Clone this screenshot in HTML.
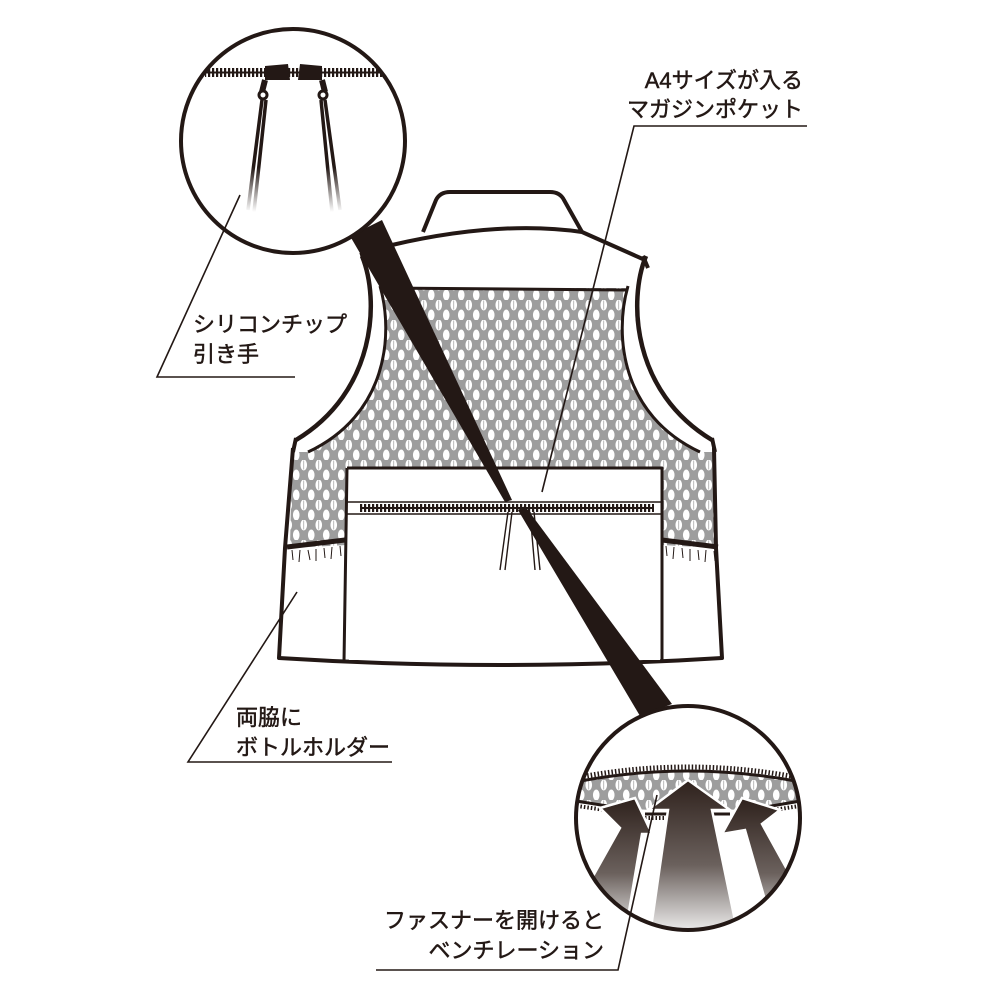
<!DOCTYPE html>
<html><head><meta charset="utf-8"><style>
html,body{margin:0;padding:0;background:#fff;}
svg{display:block;}
text{font-family:"Liberation Sans","Noto Sans CJK JP",sans-serif;font-size:22px;fill:#231815;stroke:#231815;stroke-width:0.5;}
</style></head><body>
<svg width="1000" height="1000" viewBox="0 0 1000 1000" xmlns="http://www.w3.org/2000/svg">
<defs>
<pattern id="mesh" width="15" height="20" patternUnits="userSpaceOnUse">
<rect width="15" height="20" fill="#9d9d9d"/>
<ellipse cx="3.75" cy="5" rx="3.3" ry="5.5" fill="#fff"/>
<ellipse cx="11.25" cy="15" rx="3.3" ry="5.5" fill="#fff"/>
<line x1="3.75" y1="0.5" x2="3.75" y2="9.5" stroke="#9d9d9d" stroke-width="0.7"/>
</pattern>
<pattern id="zip" width="4" height="10" patternUnits="userSpaceOnUse">
<rect x="0" y="0" width="2.2" height="10" fill="#231815"/>
</pattern>
<linearGradient id="ag" x1="0" y1="0" x2="0" y2="1">
<stop offset="0" stop-color="#2e211c"/><stop offset="0.55" stop-color="#6b615d"/><stop offset="1" stop-color="#f4f4f4"/>
</linearGradient>
<linearGradient id="cg" x1="0" y1="0" x2="0" y2="1">
<stop offset="0" stop-color="#231815"/><stop offset="0.6" stop-color="#231815"/><stop offset="1" stop-color="#fff"/>
</linearGradient>
<clipPath id="c2"><circle cx="688" cy="818" r="112"/></clipPath>
<clipPath id="c1"><circle cx="293" cy="141" r="112"/></clipPath>
</defs>

<g stroke="#231815" stroke-linejoin="round" fill="none">
<path d="M423,232 L436,200 Q440,192 450,192 L550,192 Q560,192 564,200 L582,232" stroke-width="4" fill="#fff"/>
<path d="M392,245 Q500,220 582,232 L645,260" stroke-width="4"/>
<path d="M382,288 L626,288 C614,335 621,415 700,452 L716,452 L716,548 L662,545 L662,468 L347,468 L347,545 L290,548 L292,452 L308,452 C387,415 394,335 382,288 Z" fill="url(#mesh)" stroke="none"/>
<path d="M382,288 L626,290" stroke-width="3"/>
<path d="M362,256 C380,300 376,392 296,440" stroke-width="4.5"/>
<path d="M380,286 C394,335 387,415 308,452" stroke-width="3"/>
<path d="M360,255 L392,245" stroke-width="4"/>
<path d="M296,438 L293,452" stroke-width="4"/>
<path d="M646,256 C628,300 632,392 712,440" stroke-width="4.5"/>
<path d="M628,286 C614,335 621,415 700,452" stroke-width="3"/>
<path d="M643,256 L648,268" stroke-width="4"/>
<path d="M712,438 L715,452" stroke-width="4"/>
<path d="M293,448 L285,548 L279,658 Q500,672 722,658 L716,548 L714,448" stroke-width="4"/>
<path d="M287,547 L345,540 M662,540 L718,547" stroke-width="5"/>
<path d="M292,550 l1,10 M300,550 l-1,12 M308,550 l2,10 M316,549 l0,12 M324,548 l1,10 M332,547 l-1,12 M340,546 l1,10 M666,546 l1,10 M674,547 l-1,12 M682,548 l1,10 M690,549 l0,12 M698,550 l1,10 M706,550 l-1,12 M714,551 l1,10" stroke-width="1"/>
<rect x="349" y="470" width="311" height="190" fill="#fff" stroke="none"/>
<path d="M347,468 L662,468 L662,662 M347,468 L344,662" stroke-width="3"/>
<path d="M347,502 L662,502 M347,514 L662,514" stroke-width="1.5"/>
<rect x="360" y="504" width="294" height="8" fill="url(#zip)" stroke="none"/>
<line x1="360" y1="508" x2="654" y2="508" stroke-width="2"/>
<path d="M508,512 L500,570 M512,512 L505,570 M530,512 L535,570 M534,512 L540,570" stroke-width="1.4"/>
</g>

<path d="M350,236 L382,220 L512,500 L505,502 Z" fill="#231815"/>
<path d="M518,510 L525,506 L672,704 L640,716 Z" fill="#231815"/>

<circle cx="293" cy="141" r="112" fill="#fff"/>
<g clip-path="url(#c1)">
<rect x="205" y="68" width="178" height="9" fill="url(#zip)"/>
<line x1="205" y1="72.5" x2="383" y2="72.5" stroke="#231815" stroke-width="2"/>
<path d="M265,66 L288,64 L290,80 L265,80 Z M300,64 L322,66 L322,80 L298,80 Z" fill="#231815"/>
<path d="M265,80 L262,92 M322,80 L325,92" stroke="#231815" stroke-width="6"/>
<circle cx="263" cy="95" r="4" fill="none" stroke="#231815" stroke-width="3"/>
<circle cx="323" cy="95" r="4" fill="none" stroke="#231815" stroke-width="3"/>
<path d="M262,100 L248,210 M266,100 L254,212 M321,100 L332,212 M325,100 L340,210" stroke="url(#cg)" stroke-width="3.5"/>
</g>
<circle cx="293" cy="141" r="112" fill="none" stroke="#231815" stroke-width="4"/>

<circle cx="688" cy="818" r="112" fill="#fff"/>
<g clip-path="url(#c2)">
<path d="M570,782 Q688,758 806,782 L806,802 Q688,820 570,802 Z" fill="url(#mesh)"/>
<path d="M570,783 Q688,759 806,783" stroke="#231815" stroke-width="3" fill="none"/>
<path d="M570,779 Q688,755 806,779" stroke="#231815" stroke-width="5" stroke-dasharray="1.5,2" fill="none"/>
<path d="M570,800 L620,808 M645,814 L672,814 M705,814 L730,814 M760,808 L806,800" stroke="#231815" stroke-width="3" fill="none"/>
<path d="M570,805 L620,812 M645,818 L672,818 M760,812 L806,805" stroke="#231815" stroke-width="4" stroke-dasharray="1.5,2" fill="none"/>
<path d="M600,808 L635,798 L652,834 L642,834 L625,935 L560,935 L620,828 Z" fill="url(#ag)" stroke="#fff" stroke-width="2.5"/>
<path d="M688,780 L730,810 L712,810 L738,935 L650,935 L668,810 L648,810 Z" fill="url(#ag)" stroke="#fff" stroke-width="2.5"/>
<path d="M742,798 L780,810 L762,824 L815,920 L775,935 L745,830 L722,834 Z" fill="url(#ag)" stroke="#fff" stroke-width="2.5"/>
</g>
<circle cx="688" cy="818" r="112" fill="none" stroke="#231815" stroke-width="4"/>

<g stroke="#231815" stroke-width="1.6" fill="none">
<path d="M807,126 L634,126 L542,492"/>
<path d="M295,377 L157,377 L240,195"/>
<path d="M392,762 L188,762 L297,592"/>
<path d="M376,970 L618,970 L657,795"/>
</g>

<text x="803" y="88" text-anchor="end">A4サイズが入る</text>
<text x="803" y="117" text-anchor="end">マガジンポケット</text>
<text x="193" y="332">シリコンチップ</text>
<text x="193" y="362">引き手</text>
<text x="236" y="725">両脇に</text>
<text x="236" y="755">ボトルホルダー</text>
<text x="604" y="928" text-anchor="end">ファスナーを開けると</text>
<text x="604" y="958" text-anchor="end">ベンチレーション</text>
</svg>
</body></html>
